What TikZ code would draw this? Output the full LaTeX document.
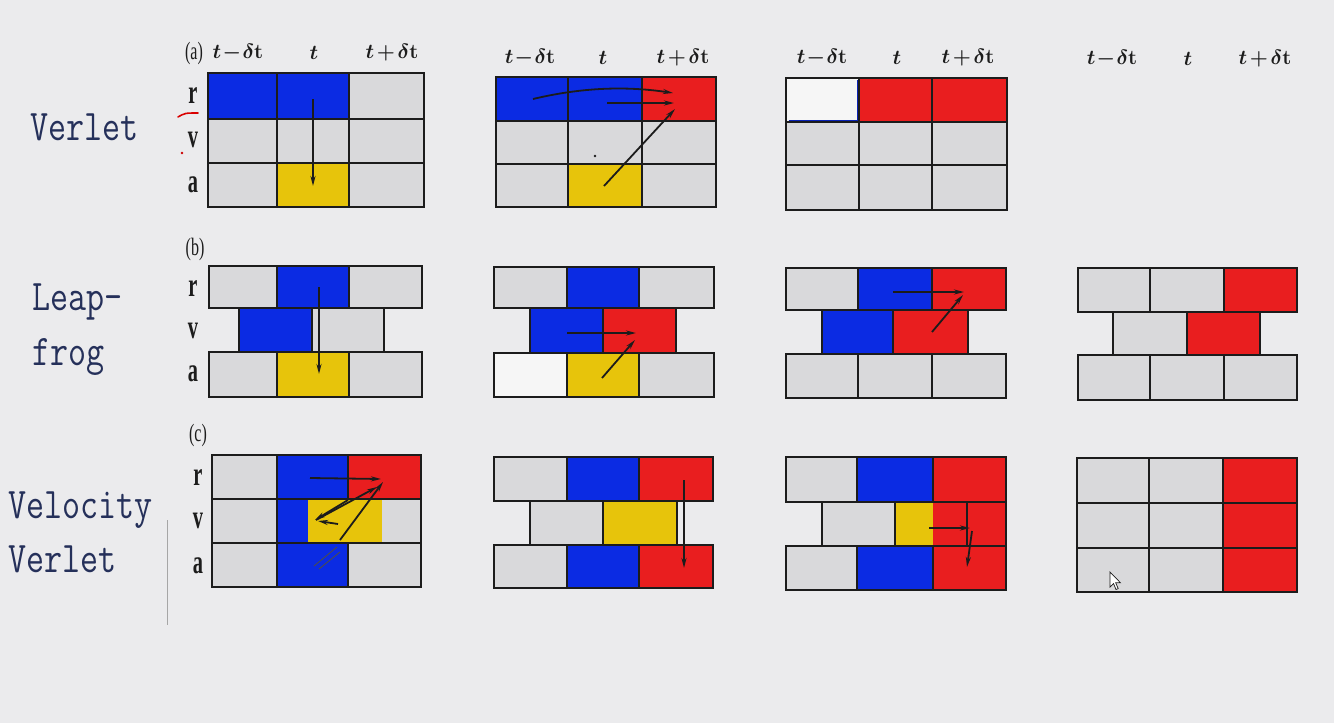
\documentclass[tikz,border=0pt]{standalone}
\usepackage{amsmath}
\usepackage{fontspec}
\newfontfamily\labfont{Liberation Serif}
\usetikzlibrary{arrows.meta}
\definecolor{bg}{HTML}{EBEBED}
\definecolor{cg}{HTML}{D9D9DB}
\definecolor{cb}{HTML}{0B2BE3}
\definecolor{cr}{HTML}{E91E1F}
\definecolor{cy}{HTML}{E7C40B}
\definecolor{cw}{HTML}{F6F6F6}
\definecolor{navy}{HTML}{25305A}
\definecolor{ink}{HTML}{1C1C1C}
\newcommand\cel[6]{%
 \pgfmathsetmacro\celW{#4-#2}\pgfmathsetmacro\celH{#5-#3}%
 \node[cel,fill=#6,minimum width=\celW pt,minimum height=\celH pt] (#1) at ({(#2+#4)/2},{(#3+#5)/2}) {};}
\newcommand\tminus{$\boldsymbol{t}\mkern1mu{-}\mkern1mu\delta\mathbf{t}$}
\newcommand\tplus{$\boldsymbol{t}\mkern2mu{+}\mkern2mu\delta\mathbf{t}$}
\newcommand\tsym{$\boldsymbol{t}$}
\begin{document}
\begin{tikzpicture}[x=1pt,y=-1pt,
  cel/.style={rectangle,draw=ink,line width=2.3pt,inner sep=0pt,outer sep=0pt},
  arr/.style={-{Stealth[length=10pt,width=5pt]},line width=1.8pt,ink},
  meth/.style={font=\fontsize{35}{40}\selectfont\ttfamily,text=navy,anchor=base west,inner sep=0pt},
  hdr/.style={font=\fontsize{22}{24}\selectfont\boldmath,text=ink,anchor=center,inner sep=0pt},
  rlab/.style={font=\labfont\bfseries\fontsize{24}{28}\selectfont,text=ink,anchor=base,inner sep=0pt},
  plab/.style={font=\labfont\fontsize{20}{24}\selectfont,text=ink,anchor=center,inner sep=0pt}]
\useasboundingbox (0,0) rectangle (1334,723);
\fill[bg] (0,0) rectangle (1334,723);

% method labels
\node[meth] (mv) at (30,140) {\scalebox{1}[1.25]{Verlet}};
\node[meth] (ml1) at (32,310) {\scalebox{1}[1.25]{Leap-}};
\node[meth] (ml2) at (32,365) {\scalebox{1}[1.25]{frog}};
\node[meth] (mvv1) at (8,518) {\scalebox{1}[1.25]{Velocity}};
\node[meth] (mvv2) at (8,572) {\scalebox{1}[1.25]{Verlet}};
\draw[gray!70,line width=0.8pt] (167,520) -- (167,625);

% headers
\node[plab] (la) at (194,53) {\scalebox{0.8}[1.25]{(a)}};
\node[hdr] (h11) at (238,53) {\tminus};
\node[hdr] (h12) at (314,53) {\tsym};
\node[hdr] (h13) at (392,53) {\tplus};
\node[hdr] (h21) at (530,58) {\tminus};
\node[hdr] (h22) at (603,58) {\tsym};
\node[hdr] (h23) at (683,58) {\tplus};
\node[hdr] (h31) at (822,58) {\tminus};
\node[hdr] (h32) at (897,58) {\tsym};
\node[hdr] (h33) at (968,58) {\tplus};
\node[hdr] (h41) at (1112,59) {\tminus};
\node[hdr] (h42) at (1188,59) {\tsym};
\node[hdr] (h43) at (1265,59) {\tplus};
\node[plab] (lb) at (195,249) {\scalebox{0.8}[1.25]{(b)}};
\node[plab] (lc) at (198,435) {\scalebox{0.8}[1.25]{(c)}};

% row labels
\node[rlab] (ar) at (193,103) {\scalebox{0.85}[1.4]{r}};
\node[rlab] (av) at (193,147) {\scalebox{0.85}[1.4]{v}};
\node[rlab] (aa) at (193,192) {\scalebox{0.85}[1.4]{a}};
\node[rlab] (br) at (193,296) {\scalebox{0.85}[1.4]{r}};
\node[rlab] (bv) at (193,338) {\scalebox{0.85}[1.4]{v}};
\node[rlab] (ba) at (193,381) {\scalebox{0.85}[1.4]{a}};
\node[rlab] (cr) at (198,485) {\scalebox{0.85}[1.4]{r}};
\node[rlab] (cv) at (198,528) {\scalebox{0.85}[1.4]{v}};
\node[rlab] (ca) at (198,573) {\scalebox{0.85}[1.4]{a}};
\draw[red!85!black,line width=1.6pt,line cap=round] (178,117) .. controls (185,113) .. (198,113);
\fill[red!80!black] (182,153) circle (1.3);

% ---- (a) Verlet ----
\cel{a1r1}{208}{73}{277}{119}{cb}
\cel{a1r2}{277}{73}{349}{119}{cb}
\cel{a1r3}{349}{73}{424}{119}{cg}
\cel{a1v1}{208}{119}{277}{163}{cg}
\cel{a1v2}{277}{119}{349}{163}{cg}
\cel{a1v3}{349}{119}{424}{163}{cg}
\cel{a1a1}{208}{163}{277}{207}{cg}
\cel{a1a2}{277}{163}{349}{207}{cy}
\cel{a1a3}{349}{163}{424}{207}{cg}

\cel{a2r1}{496}{77}{568}{121}{cb}
\cel{a2r2}{568}{77}{642}{121}{cb}
\cel{a2r3}{642}{77}{716}{121}{cr}
\cel{a2v1}{496}{121}{568}{164}{cg}
\cel{a2v2}{568}{121}{642}{164}{cg}
\cel{a2v3}{642}{121}{716}{164}{cg}
\cel{a2a1}{496}{164}{568}{207}{cg}
\cel{a2a2}{568}{164}{642}{207}{cy}
\cel{a2a3}{642}{164}{716}{207}{cg}
\fill[ink] (595,156) circle (1.3);

\cel{a3r1}{786}{78}{859}{122}{cw}
\cel{a3r2}{859}{78}{932}{122}{cr}
\cel{a3r3}{932}{78}{1007}{122}{cr}
\draw[cb!80!black,line width=1pt] (788.5,120) -- (857,120) -- (857,80);
\cel{a3v1}{786}{122}{859}{165}{cg}
\cel{a3v2}{859}{122}{932}{165}{cg}
\cel{a3v3}{932}{122}{1007}{165}{cg}
\cel{a3a1}{786}{165}{859}{210}{cg}
\cel{a3a2}{859}{165}{932}{210}{cg}
\cel{a3a3}{932}{165}{1007}{210}{cg}

% ---- (b) Leap-frog ----
\cel{b1r1}{209}{266}{277}{308}{cg}
\cel{b1r2}{277}{266}{349}{308}{cb}
\cel{b1r3}{349}{266}{422}{308}{cg}
\cel{b1v1}{239}{308}{312}{352}{cb}
\cel{b1v2}{312}{308}{384}{352}{cg}
\cel{b1a1}{209}{352}{277}{397}{cg}
\cel{b1a2}{277}{352}{349}{397}{cy}
\cel{b1a3}{349}{352}{422}{397}{cg}

\cel{b2r1}{494}{267}{567}{308}{cg}
\cel{b2r2}{567}{267}{639}{308}{cb}
\cel{b2r3}{639}{267}{714}{308}{cg}
\cel{b2v1}{530}{308}{603}{353}{cb}
\cel{b2v2}{603}{308}{676}{353}{cr}
\cel{b2a1}{494}{353}{567}{397}{cw}
\cel{b2a2}{567}{353}{639}{397}{cy}
\cel{b2a3}{639}{353}{714}{397}{cg}

\cel{b3r1}{786}{268}{858}{310}{cg}
\cel{b3r2}{858}{268}{932}{310}{cb}
\cel{b3r3}{932}{268}{1006}{310}{cr}
\cel{b3v1}{822}{310}{893}{354}{cb}
\cel{b3v2}{893}{310}{968}{354}{cr}
\cel{b3a1}{786}{354}{858}{398}{cg}
\cel{b3a2}{858}{354}{932}{398}{cg}
\cel{b3a3}{932}{354}{1006}{398}{cg}

\cel{b4r1}{1078}{268}{1150}{312}{cg}
\cel{b4r2}{1150}{268}{1224}{312}{cg}
\cel{b4r3}{1224}{268}{1297}{312}{cr}
\cel{b4v1}{1113}{312}{1187}{355}{cg}
\cel{b4v2}{1187}{312}{1260}{355}{cr}
\cel{b4a1}{1078}{355}{1150}{400}{cg}
\cel{b4a2}{1150}{355}{1224}{400}{cg}
\cel{b4a3}{1224}{355}{1297}{400}{cg}

% ---- (c) Velocity Verlet ----
\cel{c1r1}{212}{455}{277}{499}{cg}
\cel{c1r2}{277}{455}{348}{499}{cb}
\cel{c1r3}{348}{455}{421}{499}{cr}
\cel{c1v1}{212}{499}{277}{543}{cg}
\cel{c1v2}{277}{499}{348}{543}{cb}
\cel{c1v3}{348}{499}{421}{543}{cg}
\cel{c1a1}{212}{543}{277}{587}{cg}
\cel{c1a2}{277}{543}{348}{587}{cb}
\cel{c1a3}{348}{543}{421}{587}{cg}
\fill[cy] (308,500.2) rectangle (382,541.8);

\cel{c2r1}{494}{457}{567}{501}{cg}
\cel{c2r2}{567}{457}{639}{501}{cb}
\cel{c2r3}{639}{457}{713}{501}{cr}
\cel{c2v1}{530}{501}{603}{545}{cg}
\cel{c2v2}{603}{501}{677}{545}{cy}
\cel{c2a1}{494}{545}{567}{588}{cg}
\cel{c2a2}{567}{545}{639}{588}{cb}
\cel{c2a3}{639}{545}{713}{588}{cr}

\cel{c3r1}{786}{457}{857}{502}{cg}
\cel{c3r2}{857}{457}{933}{502}{cb}
\cel{c3r3}{933}{457}{1006}{502}{cr}
\cel{c3v1}{822}{502}{895}{546}{cg}
\cel{c3v2}{895}{502}{967}{546}{cy}
\cel{c3v3}{967}{502}{1006}{546}{cr}
\fill[cr] (933,503.2) rectangle (965.8,544.8);
\cel{c3a1}{786}{546}{857}{590}{cg}
\cel{c3a2}{857}{546}{933}{590}{cb}
\cel{c3a3}{933}{546}{1006}{590}{cr}

\cel{c4r1}{1077}{458}{1149}{503}{cg}
\cel{c4r2}{1149}{458}{1223}{503}{cg}
\cel{c4r3}{1223}{458}{1297}{503}{cr}
\cel{c4v1}{1077}{503}{1149}{548}{cg}
\cel{c4v2}{1149}{503}{1223}{548}{cg}
\cel{c4v3}{1223}{503}{1297}{548}{cr}
\cel{c4a1}{1077}{548}{1149}{592}{cg}
\cel{c4a2}{1149}{548}{1223}{592}{cg}
\cel{c4a3}{1223}{548}{1297}{592}{cr}

% ---- arrows ----
\coordinate (pa1s) at (313,99);  \coordinate (pa1e) at (313,186);
\draw[arr] (pa1s) -- (pa1e);
\coordinate (pa2s) at (533,99);  \coordinate (pa2e) at (673,93);
\draw[arr] (pa2s) .. controls (575,89) and (620,85) .. (pa2e);
\coordinate (pa3s) at (607,103); \coordinate (pa3e) at (674,103);
\draw[arr] (pa3s) -- (pa3e);
\coordinate (pa4s) at (604,186); \coordinate (pa4e) at (675,109);
\draw[arr] (pa4s) -- (pa4e);

\coordinate (pb1s) at (319,287); \coordinate (pb1e) at (319,374);
\draw[arr] (pb1s) -- (pb1e);
\coordinate (pb2s) at (567,333); \coordinate (pb2e) at (636,333);
\draw[arr] (pb2s) -- (pb2e);
\coordinate (pb3s) at (602,378); \coordinate (pb3e) at (635,340);
\draw[arr] (pb3s) -- (pb3e);
\coordinate (pb4s) at (893,292); \coordinate (pb4e) at (964,292);
\draw[arr] (pb4s) -- (pb4e);
\coordinate (pb5s) at (932,332); \coordinate (pb5e) at (963,295);
\draw[arr] (pb5s) -- (pb5e);

\coordinate (pc1s) at (310,478); \coordinate (pc1e) at (381,479);
\draw[arr] (pc1s) -- (pc1e);
\coordinate (pc2s) at (316,520); \coordinate (pc2e) at (377,487);
\draw[arr] (pc2s) -- (pc2e);
\coordinate (pc3s) at (340,540); \coordinate (pc3e) at (383,482);
\draw[arr] (pc3s) -- (pc3e);
\coordinate (pc4s) at (348,500); \coordinate (pc4e) at (315,520);
\draw[arr] (pc4s) -- (pc4e);
\coordinate (pc5s) at (338,524); \coordinate (pc5e) at (318,521);
\draw[arr] (pc5s) -- (pc5e);
\coordinate (pc6s) at (314,566); \coordinate (pc6e) at (337,547);
\coordinate (pc7s) at (319,569); \coordinate (pc7e) at (340,552);
\draw[gray!60!black,line width=0.9pt] (pc6s) -- (pc6e);
\draw[gray!60!black,line width=0.9pt] (pc7s) -- (pc7e);
\coordinate (pc8s) at (684,480); \coordinate (pc8e) at (684,568);
\draw[arr] (pc8s) -- (pc8e);
\coordinate (pc9s) at (929,528); \coordinate (pc9e) at (970,528);
\draw[arr] (pc9s) -- (pc9e);
\coordinate (pcas) at (972,531); \coordinate (pcae) at (967,567);
\draw[arr] (pcas) -- (pcae);

% mouse pointer
\draw[ink,line width=0.7pt,fill=white] (1110,572) -- (1110,587) -- (1113.5,583.5) -- (1116,589.5) -- (1118.2,588.6) -- (1115.7,582.8) -- (1120.5,582.8) -- cycle;
\end{tikzpicture}
\end{document}
